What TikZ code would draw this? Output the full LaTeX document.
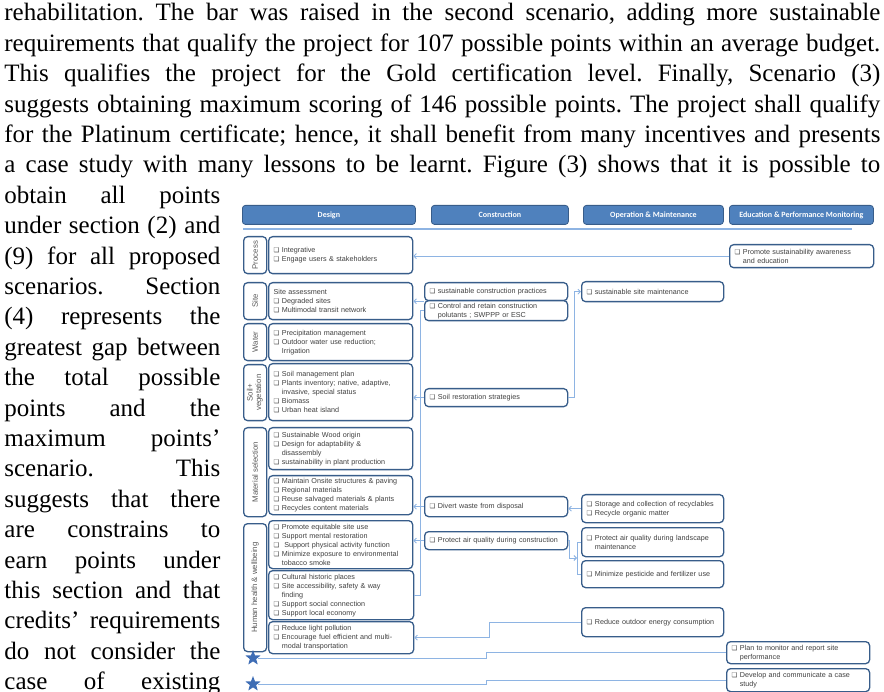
\documentclass[tikz,border=0pt]{standalone}
\usepackage{fontspec}
\setmainfont{Liberation Serif}
\newfontfamily\itemfont{Liberation Sans}
\newfontfamily\headfont{Carlito}
\newfontfamily\symfont{DejaVu Sans}
\usepackage{xcolor}
\usepackage{tikz}
\usetikzlibrary{positioning}
\usetikzlibrary{shapes.geometric}
\usetikzlibrary{arrows.meta}
\definecolor{boxblue}{RGB}{56,93,138}
\definecolor{headfill}{RGB}{79,129,189}
\definecolor{linkblue}{RGB}{142,180,227}
\definecolor{txtgray}{RGB}{64,64,64}
\definecolor{catgray}{RGB}{89,89,89}
\definecolor{starblue}{RGB}{62,109,181}
\newcommand{\chk}{{\symfont\fontsize{6.5pt}{9pt}\selectfont\char"274F}\ }
\newcommand{\chkind}{\phantom{\chk}}
\frenchspacing

\begin{document}
\begin{tikzpicture}[
	x=1pt, y=-1pt,
	thick
]
\tikzset{
    headbox/.style = {rectangle, rounded corners=3pt, draw=boxblue, fill=headfill, line width=0.8pt, anchor=north west, minimum height=19pt, inner sep=0pt, text=white, font=\headfont\bfseries\fontsize{8}{9}\selectfont},
    catbox/.style = {rectangle, rounded corners=4pt, draw=boxblue, fill=white, line width=1.3pt, anchor=north west, minimum width=23pt, inner sep=0pt, text=catgray, font=\itemfont\fontsize{7.8}{8.5}\selectfont},
    itembox/.style = {rectangle, rounded corners=4pt, draw=boxblue, fill=white, line width=1.3pt, anchor=north west, align=left, inner xsep=5pt, inner ysep=1pt, text=txtgray, font=\itemfont\fontsize{7.2}{9}\selectfont},
    linkline/.style = {draw=linkblue, line width=0.9pt},
    linkarrow/.style = {linkline, -{Straight Barb[length=2.5pt,width=5pt]}},
    bluestar/.style = {star, star points=5, star point ratio=2.4, fill=starblue, minimum size=16pt, inner sep=0pt}
}
\useasboundingbox (0,0) rectangle (884,692);
\node[anchor=base west, text width=876pt, align=justify, inner sep=0pt, font=\fontsize{25}{30.4}\selectfont] (partop) at (4,21) {\tolerance=10000\hyphenpenalty=10000\hbadness=10000
rehabilitation. The bar was raised in the second scenario, adding more sustainable\linebreak
requirements that qualify the project for 107 possible points within an average budget.\linebreak
This qualifies the project for the Gold certification level. Finally, Scenario (3)\linebreak
suggests obtaining maximum scoring of 146 possible points. The project shall qualify\linebreak
for the Platinum certificate; hence, it shall benefit from many incentives and presents\linebreak
a case study with many lessons to be learnt. Figure (3) shows that it is possible to\parfillskip=0pt\par};
\node[anchor=base west, text width=216pt, align=justify, inner sep=0pt, font=\fontsize{25}{30.4}\selectfont] (parleft) at (4,203.4) {\tolerance=10000\hyphenpenalty=10000\hbadness=10000
obtain all points\linebreak
under section (2) and\linebreak
(9) for all proposed\linebreak
scenarios. Section\linebreak
(4) represents the\linebreak
greatest gap between\linebreak
the total possible\linebreak
points and the\linebreak
maximum points'\linebreak
scenario. This\linebreak
suggests that there\linebreak
are constrains to\linebreak
earn points under\linebreak
this section and that\linebreak
credits' requirements\linebreak
do not consider the\linebreak
case of existing\parfillskip=0pt\par};

\node[headbox, minimum width=173pt] (hDes) at (242,205) {Design};
\node[headbox, minimum width=137pt] (hCon) at (431,205) {Construction};
\node[headbox, minimum width=140pt] (hOp) at (583,205) {Operation \& Maintenance};
\node[headbox, minimum width=144pt] (hEdu) at (729,205) {Education \& Performance Monitoring};
\draw[linkline, line width=1.5pt] (243,229) -- (852,229);

\node[catbox, minimum height=37pt] (cProc) at (243,236) {\rotatebox{90}{Process}};
\node[catbox, minimum height=37pt] (cSite) at (243,282) {\rotatebox{90}{Site}};
\node[catbox, minimum height=37pt] (cWater) at (243,323) {\rotatebox{90}{Water}};
\node[catbox, minimum height=56pt] (cSoil) at (243,364) {\rotatebox{90}{\begin{tabular}{@{}c@{}}Soil+\\vegetation\end{tabular}}};
\node[catbox, minimum height=89pt] (cMat) at (243,427) {\rotatebox{90}{Material selection}};
\node[catbox, minimum height=128pt] (cHum) at (243,523) {\rotatebox{90}{Human health \& wellbeing}};

\node[itembox, text width=134pt, minimum height=37pt] (dProc) at (268,236) {\chk Integrative\\\chk Engage users \& stakeholders};
\node[itembox, text width=134pt, minimum height=37pt] (dSite) at (268,282) {Site assessment\\\chk Degraded sites\\\chk Multimodal\ transit network};
\node[itembox, text width=134pt, minimum height=37pt] (dWater) at (268,323) {\chk Precipitation management\\\chk Outdoor water use reduction;\\\chkind Irrigation};
\node[itembox, text width=134pt, minimum height=57pt] (dSoil) at (268,363) {\chk Soil management plan\\\chk Plants inventory; native, adaptive,\\\chkind invasive, special status\\\chk Biomass\\\chk Urban heat island};
\node[itembox, text width=134pt, minimum height=42pt] (dMat1) at (268,427) {\chk Sustainable Wood origin\\\chk Design for adaptability \&\\\chkind disassembly\\\chk sustainability in plant production};
\node[itembox, text width=134pt, minimum height=39pt] (dMat2) at (268,475) {\chk Maintain Onsite structures \& paving\\\chk Regional materials\\\chk Reuse salvaged materials \& plants\\\chk Recycles content materials};
\node[itembox, text width=134pt, minimum height=48pt] (dHum1) at (268,520) {\chk Promote equitable site use\\\chk Support mental restoration\\\chk\ Support physical activity function\\\chk Minimize exposure to environmental\\\chkind tobacco smoke};
\node[itembox, text width=135pt, minimum height=49pt] (dHum2) at (268,570) {\chk Cultural historic places\\\chk Site accessibility, safety \& way\\\chkind finding\\\chk Support social connection\\\chk Support local economy};
\node[itembox, text width=135pt, minimum height=32pt] (dHum3) at (268,621) {\chk Reduce light pollution\\\chk Encourage fuel efficient and multi-\\\chkind modal transportation};

\node[itembox, text width=133pt, minimum height=18pt] (cnPract) at (424,282) {\chk sustainable construction practices};
\node[itembox, text width=133pt, minimum height=20pt] (cnCtrl) at (424,300) {\chk Control and retain construction\\\chkind polutants\ ; SWPPP or ESC};
\node[itembox, text width=133pt, minimum height=18pt] (cnSoil) at (424,388) {\chk Soil restoration strategies};
\node[itembox, text width=133pt, minimum height=20pt] (cnWaste) at (424,496) {\chk Divert waste from disposal};
\node[itembox, text width=133pt, minimum height=18pt] (cnAir) at (424,531) {\chk Protect air quality during construction};

\node[itembox, text width=132pt, minimum height=20pt] (opSite) at (581,281) {\chk sustainable site maintenance};
\node[itembox, text width=132pt, minimum height=28pt] (opRecyc) at (581,494) {\chk Storage and collection of recyclables\\\chk Recycle organic matter};
\node[itembox, text width=132pt, minimum height=29pt] (opAirL) at (581,527) {\chk Protect air quality during landscape\\\chkind maintenance};
\node[itembox, text width=132pt, minimum height=27pt] (opPest) at (581,560) {\chk Minimize pesticide and fertilizer use};
\node[itembox, text width=132pt, minimum height=29pt] (opEnergy) at (581,607) {\chk Reduce outdoor energy consumption};

\node[itembox, text width=134pt, minimum height=23pt] (edAware) at (729,244) {\chk Promote sustainability awareness\\\chkind and education};
\node[itembox, text width=133pt, minimum height=22pt] (edPlan) at (726,641) {\chk Plan to monitor and report site\\\chkind performance};
\node[itembox, text width=133pt, minimum height=23pt] (edCase) at (726,668) {\chk Develop and communicate a case\\\chkind study};

\node[bluestar] (s1) at (253,658) {};
\node[bluestar] (s2) at (253,684) {};

\draw[linkarrow] (edAware.west) -- (edAware.west -| dProc.east);
\draw[linkarrow] (cnPract.south west) -- (cnPract.south west -| dSite.east);
\draw[linkline] (cnCtrl.west) -- ++(-4,0) |- (dHum2.east);
\draw[linkarrow] (cnSoil.west) -- (cnSoil.west -| dSoil.east);
\draw[linkarrow] (cnWaste.west) -- (cnWaste.west -| dMat2.east);
\draw[linkarrow] (cnAir.west) -- (cnAir.west -| dHum1.east);
\draw[linkarrow] (cnSoil.east) -- ++(6,0) |- (opSite.west);
\draw[linkarrow] (opRecyc.west) -- (opRecyc.west -| cnWaste.east);
\draw[linkline] (opAirL.west) -- ++(-4,0) |- (opPest.west);
\coordinate (brk) at (577,558);
\draw[linkarrow] (cnAir.east) -- ++(1.5,0) |- (brk);
\draw[linkarrow] (opEnergy.west) -- ++(-92,0) |- (dHum3.east);
\draw[linkline] (s1.east) -- ++(228,0) |- (edPlan.west);
\draw[linkline] (s2.east) -- ++(228,0) |- (edCase.west);
\end{tikzpicture}
\end{document}
